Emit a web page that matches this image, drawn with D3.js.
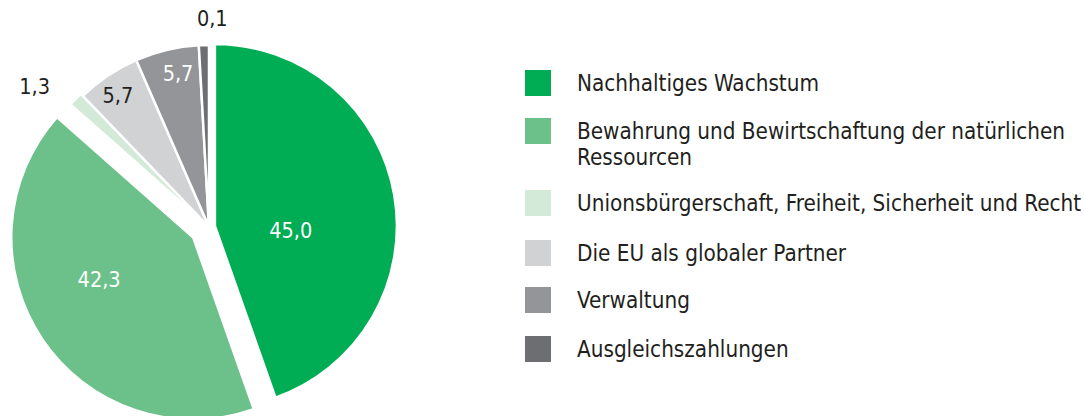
<!DOCTYPE html>
<html><head><meta charset="utf-8">
<script src="https://cdn.jsdelivr.net/npm/d3@7/dist/d3.min.js"></script>
<style>
html,body{margin:0;padding:0;background:#fff;}
text{font-family:"DejaVu Sans Condensed","DejaVu Sans",sans-serif;}
</style></head>
<body><svg id="chart" width="1084" height="416"></svg>
<script>
// ---- data ----
const categories = [
  "Nachhaltiges Wachstum",
  "Bewahrung und Bewirtschaftung der natürlichen Ressourcen",
  "Unionsbürgerschaft, Freiheit, Sicherheit und Recht",
  "Die EU als globaler Partner",
  "Verwaltung",
  "Ausgleichszahlungen"
];
const legendLines = [
  ["Nachhaltiges Wachstum"],
  ["Bewahrung und Bewirtschaftung der natürlichen", "Ressourcen"],
  ["Unionsbürgerschaft, Freiheit, Sicherheit und Recht"],
  ["Die EU als globaler Partner"],
  ["Verwaltung"],
  ["Ausgleichszahlungen"]
];
const values = [45.0, 42.3, 1.3, 5.7, 5.7, 0.1];
const valueLabels = ["45,0", "42,3", "1,3", "5,7", "5,7", "0,1"];

// ---- style ----
const colors = ["#00ac54", "#6cc18b", "#d2ead7", "#d1d2d4", "#939598", "#6d6e71"];
const labelColors = ["#ffffff", "#ffffff", "#231f20", "#231f20", "#ffffff", "#231f20"];
const explode = [6, 19, 3, 0, 0, 0];
const labelRadius = [76, 103, 221, 160, 157, 209];
const labelShiftDeg = [13, 10, -5, -1, 2, 2.5];
const minVisibleShare = 0.9; // smallest slice is drawn at a visible size

const svg = d3.select("#chart");
const cx = 209, cy = 227, R = 182;

const pie = d3.pie().sort(null).value(d => Math.max(d, minVisibleShare));
const arcs = pie(values);
const arc = d3.arc().innerRadius(0).outerRadius(R);

const g = svg.append("g").attr("transform", `translate(${cx},${cy})`);

arcs.forEach((a, i) => {
  const mid = (a.startAngle + a.endAngle) / 2;
  const ox = Math.sin(mid) * explode[i], oy = -Math.cos(mid) * explode[i];
  g.append("path")
    .attr("d", arc(a))
    .attr("transform", `translate(${ox},${oy})`)
    .attr("fill", colors[i])
    .attr("stroke", "#fff")
    .attr("stroke-width", 2.5)
    .attr("stroke-linejoin", "miter");
  const la = mid + labelShiftDeg[i] * Math.PI / 180;
  const lr = labelRadius[i];
  g.append("text")
    .attr("x", ox + Math.sin(la) * lr)
    .attr("y", oy - Math.cos(la) * lr)
    .attr("text-anchor", "middle")
    .attr("dominant-baseline", "central")
    .attr("font-size", 21.5)
    .attr("fill", labelColors[i])
    .text(valueLabels[i]);
});

// ---- legend ----
const rowY = [83, 131, 203, 253, 300, 349];
const legend = svg.append("g");
categories.forEach((c, i) => {
  legend.append("rect")
    .attr("x", 525).attr("y", rowY[i] - 13)
    .attr("width", 26).attr("height", 26)
    .attr("fill", colors[i]);
  const t = legend.append("text")
    .attr("x", 577).attr("y", rowY[i])
    .attr("font-size", 22.3)
    .attr("fill", "#231f20")
    .attr("dominant-baseline", "central");
  legendLines[i].forEach((ln, k) => {
    t.append("tspan").attr("x", 577).attr("dy", k === 0 ? 0 : 26).text(ln);
  });
});
</script></body></html>
